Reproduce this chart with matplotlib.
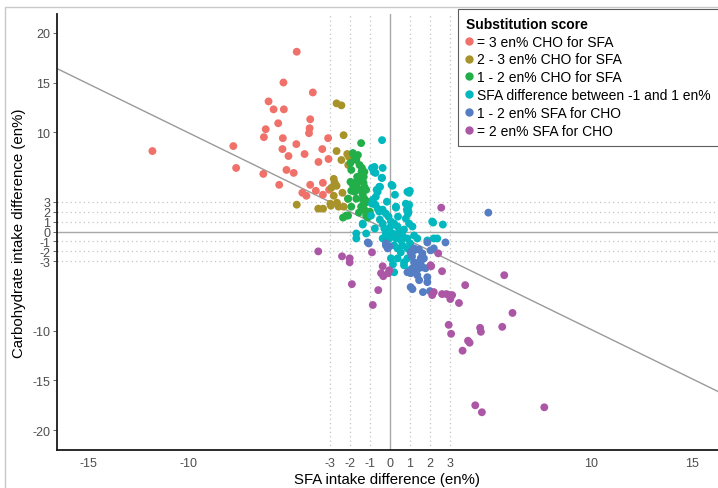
import matplotlib
matplotlib.use("Agg")
import matplotlib.pyplot as plt
from matplotlib.lines import Line2D
from matplotlib.patches import Rectangle

plt.rcParams['font.family'] = ['Liberation Sans', 'DejaVu Sans']
plt.rcParams['axes.unicode_minus'] = False

labels = ["= 3 en% CHO for SFA", "2 - 3 en% CHO for SFA", "1 - 2 en% CHO for SFA",
          "SFA difference between -1 and 1 en%", "1 - 2 en% SFA for CHO", "= 2 en% SFA for CHO"]
colors = ["#F0706A", "#A8922A", "#22AE49", "#00B8BD", "#557DC3", "#AC57A5"]

# SFA difference (x), carbohydrate difference (y) per group
red_x = [-4.63, -5.29, -3.83, -6.03, -5.78, -5.27, -3.96, -5.55, -3.99, -6.17, -4.02, -6.26,
         -5.32, -3.07, -7.78, -4.65, -11.8, -5.34, -3.36, -4.24, -5.04, -3.05, -3.55, -7.64,
         -5.14, -4.78, -6.29, -5.50, -3.96, -3.33, -3.68, -4.35, -4.15, -3.33, -3.02]
red_y = [18.1, 15.0, 14.0, 13.1, 12.3, 12.3, 11.3, 10.9, 10.4, 10.3, 9.9, 9.5,
         9.4, 9.4, 8.6, 8.8, 8.1, 8.3, 8.3, 7.8, 7.6, 7.3, 7.0, 6.4,
         6.2, 5.9, 5.8, 4.7, 4.7, 4.9, 4.1, 3.9, 3.6, 3.7, 4.2]

olive_x = [-4.63, -3.56, -3.32, -2.96, -2.93, -2.79, -2.79, -2.74, -2.91, -2.65, -2.65, -2.65,
           -2.41, -2.30, -2.12, -2.41, -2.07, -2.36, -2.08, -2.63, -2.55, -2.30, -2.03]
olive_y = [2.7, 2.3, 2.3, 2.8, 2.6, 3.6, 5.3, 4.9, 4.4, 4.6, 8.1, 12.9,
           12.7, 9.7, 7.8, 7.2, 6.7, 3.9, 3.3, 2.9, 2.5, 2.5, 7.5]

green_x = [-1.43, -1.84, -1.76, -1.67, -1.59, -1.96, -1.51, -1.39, -1.27, -1.30, -1.41, -1.92,
           -1.96, -1.84, -1.67, -1.75, -1.31, -1.27, -1.92, -1.43, -1.56, -1.35, -1.75, -1.27,
           -1.67, -2.08, -1.34, -1.92, -1.43, -1.27, -1.27, -1.54, -1.18, -1.10, -2.17, -2.33,
           -2.08, -1.18, -1.63, -1.50, -1.10, -1.00]
green_y = [8.9, 7.9, 7.5, 7.2, 7.7, 6.9, 6.7, 6.4, 6.0, 5.5, 6.0, 6.2,
           5.0, 4.7, 4.7, 4.9, 4.9, 4.5, 4.1, 4.2, 4.2, 3.7, 4.0, 3.3,
           3.3, 3.3, 3.2, 2.5, 2.5, 2.8, 2.2, 1.9, 1.6, 1.4, 1.6, 1.4,
           1.6, 4.2, 5.5, 5.2, 3.0, 2.0]

cyan_x = [-0.39, -0.77, -0.36, -0.89, -0.72, -0.80, -0.41, -0.53, -0.49, -0.61, -0.66, 0.13,
          0.08, 0.25, 0.87, 0.99, 0.95, -0.85, -0.70, -0.89, -0.72, -0.61, -0.53, -0.36,
          -0.20, -0.07, -0.94, 0.30, 0.05, 0.21, 0.38, 0.79, 0.95, 0.84, 0.79, 0.95,
          1.12, 1.20, 1.36, 1.86, 2.18, 2.35, 2.10, 2.15, 2.63, 0.46, 0.30, 0.21,
          0.38, 0.54, 0.87, 0.62, 0.87, 0.62, -1.35, -1.35, -1.67, -1.67, -1.18, -0.36,
          -0.28, -0.20, -0.36, -0.03, 0.13, 0.38, 0.70, 0.87, 0.21, 0.05, 0.70, 0.95,
          0.55, 0.70, 0.00, -0.50, -0.75, 0.40, 1.00, 0.15, 0.90, -0.15, -0.39, 0.92,
          0.92, 0.30]
cyan_y = [9.2, 6.5, 6.4, 6.4, 5.9, 6.0, 5.4, 4.5, 4.5, 4.0, 4.2, 4.6,
          4.7, 3.7, 4.0, 4.1, 3.9, 3.2, 3.5, 2.8, 2.7, 2.3, 2.0, 2.2,
          1.8, 1.5, 1.6, 2.5, 1.0, 0.8, 0.5, 2.8, 2.7, 2.2, 1.3, 0.8,
          0.5, -0.4, -0.7, -0.9, -0.7, -0.7, 1.0, 0.9, 0.7, 0.0, -0.7, -1.4,
          -1.7, -2.1, -1.7, -1.4, -0.7, -0.4, 0.8, 0.7, -0.2, -0.7, -0.2, 0.8,
          0.3, -0.2, -0.7, -0.7, -0.2, -2.7, -3.1, -2.7, -4.1, -2.7, -3.4, -3.9,
          -0.9, 0.2, 0.4, 1.2, 0.3, 1.5, -1.2, -3.3, 1.8, 3.0, 5.4, 2.5,
          2.0, 2.4]

blue_x = [-1.10, -1.05, -0.20, -0.11, -0.20, -0.03, 1.86, 2.76, 2.02, 2.18, 1.03, 1.20,
          1.44, 1.61, 1.69, 1.53, 1.36, 1.20, 1.12, 1.28, 1.44, 1.03, 0.87, 1.77,
          1.86, 1.86, 1.03, 1.12, 1.64, 1.99, 1.28, 1.61, 1.36, 1.53, 1.20, 4.89,
          1.10, 1.45]
blue_y = [-1.1, -1.2, -1.2, -1.7, -1.4, -1.5, -1.1, -1.1, -1.9, -1.7, -2.1, -1.7,
          -1.8, -2.2, -2.7, -3.1, -3.4, -3.1, -3.7, -4.1, -3.7, -4.2, -4.1, -3.7,
          -4.6, -5.1, -5.6, -5.8, -6.1, -6.0, -3.2, -3.6, -4.4, -2.7, -1.9, 1.9,
          -2.5, -4.9]

purple_x = [2.55, 2.40, 2.05, 2.02, 2.59, 5.68, 3.74, 2.18, 2.10, 2.59, 2.81, 2.97,
            3.09, 3.00, 3.43, 6.09, 2.92, 3.04, 4.48, 4.52, 5.58, 3.88, 3.96, 3.61,
            4.24, 4.57, 7.67, -3.56, -2.38, -2.00, -2.00, -0.89, -1.89, -0.58, -0.85, -0.36,
            -0.44, -0.33, -0.03, -0.08]
purple_y = [2.4, -2.2, -3.5, -3.4, -4.0, -4.4, -5.4, -6.1, -6.4, -6.3, -6.3, -6.4,
            -6.4, -6.8, -7.2, -8.2, -9.4, -10.3, -9.7, -10.1, -9.6, -11.0, -11.2, -12.0,
            -17.5, -18.2, -17.7, -2.0, -2.5, -2.7, -3.1, -2.1, -5.3, -5.9, -7.4, -3.5,
            -4.2, -4.5, -3.9, -4.2]

groups_x = [red_x, olive_x, green_x, cyan_x, blue_x, purple_x]
groups_y = [red_y, olive_y, green_y, cyan_y, blue_y, purple_y]

fit_slope = -0.99
fit_intercept = 0.03

x_ticks = [-15, -10, -3, -2, -1, 0, 1, 2, 3, 10, 15]
y_ticks = [-20, -15, -10, -3, -2, -1, 0, 1, 2, 3, 10, 15, 20]
guide_vals = [-3, -2, -1, 1, 2, 3]

fig = plt.figure(figsize=(7.18, 4.89), dpi=100)
ax = fig.add_axes([57 / 718, 38 / 489, 661 / 718, 436 / 489])
ax.set_xlim(-16.54, 16.3)
ax.set_ylim(-22.0, 21.9)

for v in guide_vals:
    ax.axvline(v, color="#C4C4C4", lw=0.9, ls=(0, (1, 2.5)), zorder=1)
    ax.axhline(v, color="#C4C4C4", lw=0.9, ls=(0, (1, 2.5)), zorder=1)
ax.axvline(0, color="#A8A8A8", lw=1.0, zorder=1)
ax.axhline(0, color="#A8A8A8", lw=1.0, zorder=1)

xl = ax.get_xlim()
ax.plot(xl, [fit_intercept + fit_slope * v for v in xl], color="#9A9A9A", lw=1.0, zorder=2)

for gx, gy, c in zip(groups_x, groups_y, colors):
    ax.scatter(gx, gy, s=32, color=c, edgecolors="none", zorder=3)

ax.set_xticks(x_ticks)
ax.set_yticks(y_ticks)
ax.tick_params(colors="#4D4D4D", labelsize=9, length=3, width=0.6)
ax.tick_params(axis="x", length=0, pad=5)
ax.tick_params(axis="y", pad=2)
for s in ["top", "right"]:
    ax.spines[s].set_visible(False)
for s in ["left", "bottom"]:
    ax.spines[s].set_color("#1A1A1A")
    ax.spines[s].set_linewidth(1.3)
ax.set_xlabel("SFA intake difference (en%)", fontsize=10.8, labelpad=2)
ax.set_ylabel("Carbohydrate intake difference (en%)", fontsize=10.8, labelpad=4)

handles = [Line2D([], [], marker="o", ls="none", color=c, markersize=5) for c in colors]
leg = fig.legend(handles, labels, title="Substitution score", loc="upper left",
                 bbox_to_anchor=(458 / 718, 1 - 10 / 489), fontsize=10,
                 title_fontproperties={"weight": "bold", "size": 10},
                 frameon=True, fancybox=False, edgecolor="#333333",
                 handlelength=0.5, handletextpad=0.35, labelspacing=0.28,
                 borderpad=0.55, borderaxespad=0, alignment="left")
leg.get_frame().set_linewidth(0.8)

fig.patches.append(Rectangle((5 / 718, -0.1), 1.2, 1 - 8 / 489 + 0.1, transform=fig.transFigure,
                             fill=False, edgecolor="#C8C8C8", lw=1.0))

fig.savefig("out.png", dpi=100)
